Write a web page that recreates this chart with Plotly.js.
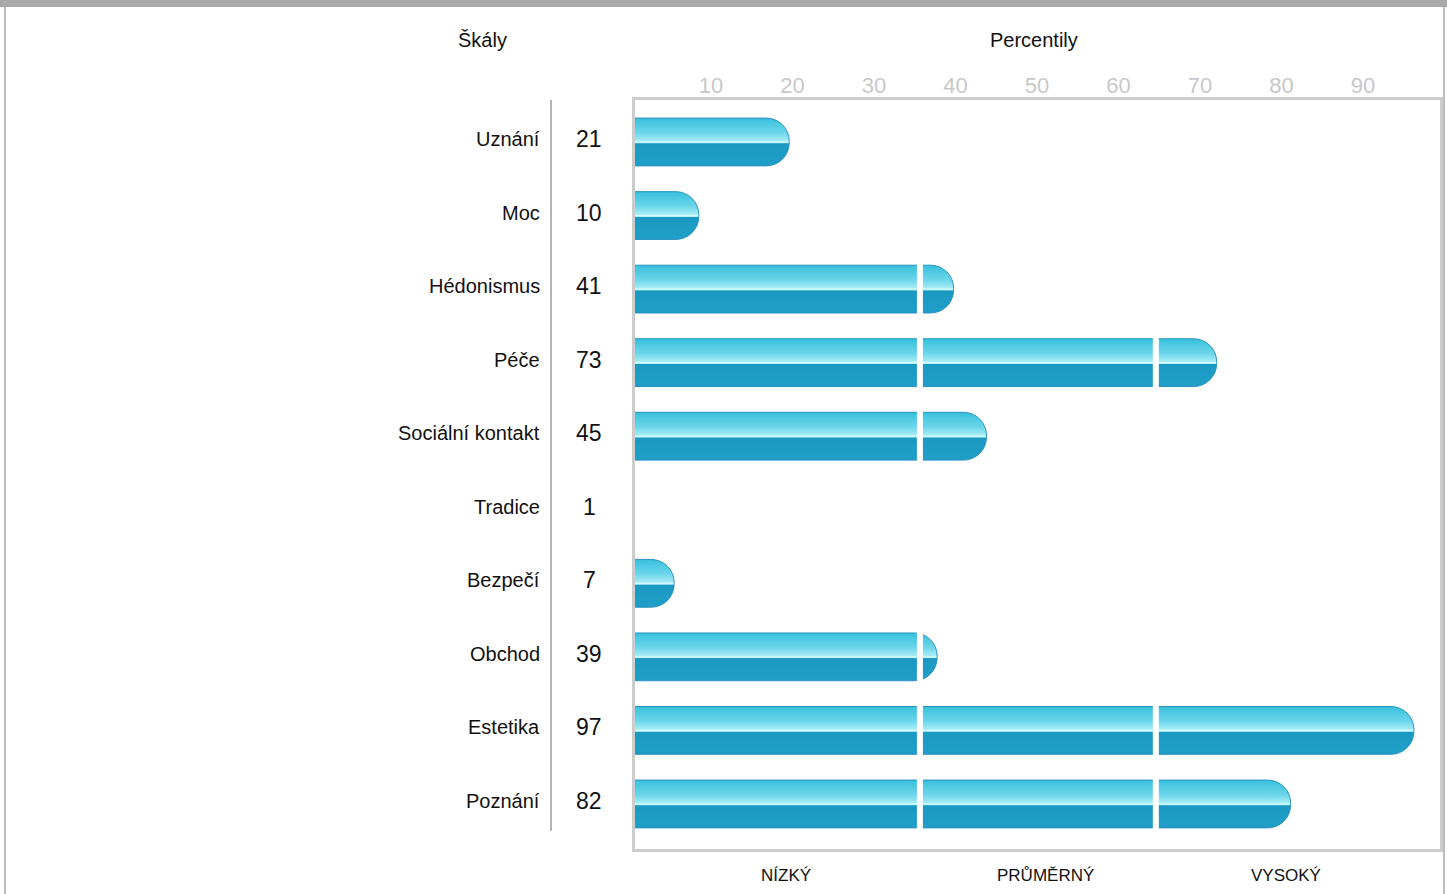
<!DOCTYPE html>
<html>
<head>
<meta charset="utf-8">
<script src="https://cdn.plot.ly/plotly-3.0.1.min.js"></script>
<style>
  html, body { margin: 0; padding: 0; background: #fff; width: 1447px; height: 894px; overflow: hidden; }
  #chart { position: absolute; left: 0; top: 0; width: 1447px; height: 894px; }
  #topband { position: absolute; left: 0; top: 0; width: 1447px; height: 7px; background: #a9a9a9; pointer-events: none; }
  #sides { position: absolute; left: 4px; top: 0; width: 1441px; height: 894px; box-sizing: border-box;
           border-left: 2px solid #bcbcbc; border-right: 2px solid #bcbcbc; pointer-events: none; }
</style>
</head>
<body>
<div id="chart"></div>
<div id="sides"></div>
<div id="topband"></div>
<script>
// ---- data ----
const categories = ["Uznání", "Moc", "Hédonismus", "Péče", "Sociální kontakt", "Tradice", "Bezpečí", "Obchod", "Estetika", "Poznání"];
const percentiles = [21, 10, 41, 73, 45, 1, 7, 39, 97, 82];
const tickValues = [10, 20, 30, 40, 50, 60, 70, 80, 90];
const zoneNames = ["NÍZKÝ", "PRŮMĚRNÝ", "VYSOKÝ"];
const zoneLabelAt = [20.6, 52.2, 81.4];
const zoneBounds = [36.9, 65.6];
const headerLeft = "Škály";
const headerRight = "Percentily";

const FONT = "Liberation Sans, Arial, Helvetica, sans-serif";
const px = v => (v - 635) / 805;          // pixel -> paper x
const py = v => (849 - v) / 749;          // pixel -> paper y

const trace = {
  type: "bar",
  orientation: "h",
  y: categories,
  x: percentiles,
  width: 0.65,
  xaxis: "x",
  yaxis: "y",
  marker: { color: "#2aa6cc", line: { color: "#2b93c4", width: 1 }, cornerradius: 23 },
  hoverinfo: "none",
  showlegend: false
};

// invisible helper trace for the top tick axis
const tickTrace = {
  type: "scatter", mode: "markers", x: [tickValues[0]], y: [categories[0]],
  xaxis: "x2", yaxis: "y", marker: { opacity: 0 }, hoverinfo: "none", showlegend: false
};

const annotations = [];
categories.forEach((c, i) => {
  annotations.push({ xref: "paper", yref: "y", x: px(542), y: c, text: c, showarrow: false,
    xanchor: "right", yanchor: "middle", yshift: 3, font: { family: FONT, size: 20, color: "#111" } });
  annotations.push({ xref: "paper", yref: "y", x: px(589), y: c, text: String(percentiles[i]), showarrow: false,
    xanchor: "center", yanchor: "middle", yshift: 3, font: { family: FONT, size: 23, color: "#111" } });
});
annotations.push({ xref: "paper", yref: "paper", x: px(482), y: py(40), text: headerLeft, showarrow: false,
  xanchor: "center", yanchor: "middle", font: { family: FONT, size: 20, color: "#111" } });
annotations.push({ xref: "paper", yref: "paper", x: px(1034), y: py(40), text: headerRight, showarrow: false,
  xanchor: "center", yanchor: "middle", font: { family: FONT, size: 20, color: "#111" } });
zoneNames.forEach((z, i) => {
  annotations.push({ xref: "x", yref: "paper", x: zoneLabelAt[i], y: py(875), text: z, showarrow: false,
    xanchor: "center", yanchor: "middle", font: { family: FONT, size: 17, color: "#111" } });
});

const shapes = zoneBounds.map(b => ({
  type: "line", xref: "x", yref: "paper", x0: b, x1: b, y0: 0.015, y1: 0.985,
  line: { color: "#ffffff", width: 6 }, layer: "above"
}));
shapes.push({ type: "line", xref: "paper", yref: "paper", x0: px(551), x1: px(551), y0: py(100), y1: py(831),
  line: { color: "#b4b4b4", width: 2 } });

const layout = {
  width: 1447, height: 894,
  margin: { l: 635, r: 7, t: 100, b: 45, pad: 0 },
  paper_bgcolor: "#ffffff", plot_bgcolor: "#ffffff",
  barmode: "overlay",
  font: { family: FONT },
  xaxis: { range: [2.24, 100.17], showticklabels: false, ticks: "", showgrid: false, zeroline: false,
           showline: true, mirror: true, linecolor: "#cccccc", linewidth: 3, fixedrange: true },
  xaxis2: { overlaying: "x", side: "top", anchor: "y", range: [0.67, 99.45], tickmode: "array",
            tickvals: tickValues, ticktext: tickValues.map(String), ticks: "", showgrid: false, zeroline: false,
            showline: false, ticklabelstandoff: 2, tickfont: { family: FONT, size: 22, color: "#c8c8c8" }, fixedrange: true },
  yaxis: { type: "category", categoryorder: "array", categoryarray: categories, range: [9.612, -0.571],
           showticklabels: false, ticks: "", showgrid: false, zeroline: false,
           showline: true, mirror: true, linecolor: "#cccccc", linewidth: 3, fixedrange: true },
  annotations: annotations,
  shapes: shapes
};

Plotly.newPlot("chart", [trace, tickTrace], layout, { staticPlot: true, displayModeBar: false }).then(gd => {
  const svg = gd.querySelector(".main-svg");
  let defs = svg.querySelector("defs");
  const NS = "http://www.w3.org/2000/svg";
  if (!defs) { defs = document.createElementNS(NS, "defs"); svg.insertBefore(defs, svg.firstChild); }
  const g = document.createElementNS(NS, "linearGradient");
  g.setAttribute("id", "barGloss");
  g.setAttribute("x1", "0"); g.setAttribute("y1", "0"); g.setAttribute("x2", "0"); g.setAttribute("y2", "1");
  [[0, "#34bad9"], [0.04, "#3ec3de"], [0.30, "#6ad5ea"], [0.47, "#a4ebf6"], [0.50, "#d6fcff"],
   [0.52, "#b8f0f9"], [0.535, "#1a98c1"], [0.95, "#1f9fc7"], [1, "#2596c6"]].forEach(([o, c]) => {
    const s = document.createElementNS(NS, "stop");
    s.setAttribute("offset", o); s.setAttribute("stop-color", c);
    g.appendChild(s);
  });
  defs.appendChild(g);
  gd.querySelectorAll(".barlayer .point path").forEach(p => { p.style.fill = "url(#barGloss)"; });
});
</script>
</body>
</html>
